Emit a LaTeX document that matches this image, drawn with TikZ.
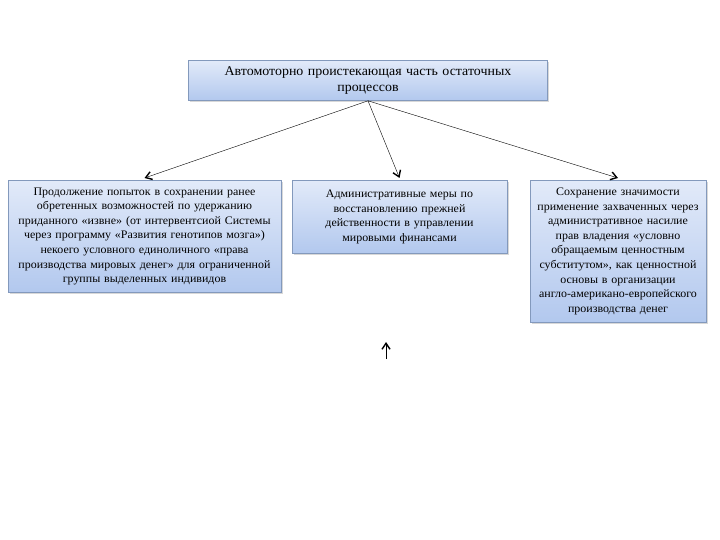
\documentclass[tikz,border=0pt]{standalone}
\usepackage{fontspec}
\setmainfont[FakeStretch=1.04]{Liberation Serif}
\usetikzlibrary{arrows.meta, positioning, shadows}
\definecolor{boxtop}{HTML}{E2EAF9}
\definecolor{boxbottom}{HTML}{B2C8EE}
\definecolor{boxline}{HTML}{8399BC}

\begin{document}
\begin{tikzpicture}[
    x=1pt, y=-1pt,
    node distance=8mm and 5mm,
    block/.style = {rectangle, draw=boxline, line width=0.8pt, align=center, inner sep=2pt,
        top color=boxtop, bottom color=boxbottom, font=\fontsize{11.5}{14.6}\selectfont,
        drop shadow={shadow xshift=1.5pt, shadow yshift=-1.5pt, fill=black!30}},
    >={Straight Barb[length=6pt, width=8pt, line width=1.4pt]}]

    \useasboundingbox (0,0) rectangle (720,540);

    \node[block, text width=355pt, minimum height=40pt, anchor=north, font=\fontsize{13.4}{16}\selectfont] (A) at (368,60) {Автомоторно проистекающая часть остаточных\\ процессов};
    \node[block, text width=269pt, minimum height=112pt, anchor=north] (B) at (144.5,180) {Продолжение попыток в сохранении ранее\\ обретенных возможностей по удержанию\\ приданного «извне» (от интервентсиой Системы\\ через программу «Развития генотипов мозга»)\\ некоего условного единоличного «права\\ производства мировых денег» для ограниченной\\ группы выделенных индивидов\\[6pt]};
    \node[block, text width=211pt, minimum height=73pt, anchor=north] (C) at (399.5,180) {Административные меры по\\ восстановлению прежней\\ действенности в управлении\\ мировыми финансами\\[8pt]};
    \node[block, text width=172pt, minimum height=142pt, anchor=north] (D) at (618,180) {Сохранение значимости\\ применение захваченных через\\ административное насилие\\ прав владения «условно\\ обращаемым ценностным\\ субститутом», как ценностной\\ основы в организации\\ англо-американо-европейского\\ производства денег};

    \coordinate (E1) at (386,359);
    \coordinate (E2) at (386,342);

    \draw[->] (A.south) -- ([yshift=2pt]B.north);
    \draw[->] (A.south) -- ([yshift=2pt]C.north);
    \draw[->] (A.south) -- ([yshift=2pt]D.north);
    \draw[->] (E1) -- (E2);
\end{tikzpicture}
\end{document}
